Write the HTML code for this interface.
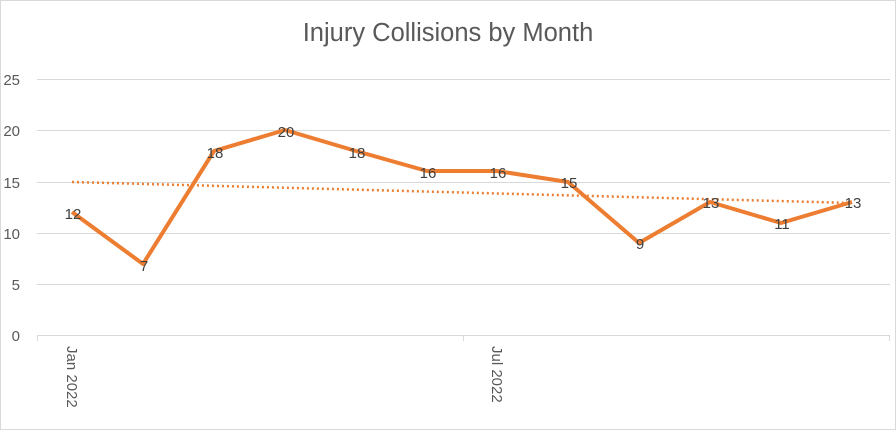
<!DOCTYPE html><html><head><style>body{margin:0;background:#fff}svg{display:block}</style></head><body>
<svg width="896" height="431" xmlns="http://www.w3.org/2000/svg" font-family="Liberation Sans, sans-serif">
<rect x="0.5" y="0.5" width="895" height="429" fill="#fff" stroke="#d9d9d9"/>
<text x="448" y="41" text-anchor="middle" font-size="25.5" fill="#595959">Injury Collisions by Month</text>
<g stroke="#d9d9d9" stroke-width="1">
<line x1="37" x2="890" y1="79.5" y2="79.5"/><line x1="37" x2="890" y1="130.5" y2="130.5"/><line x1="37" x2="890" y1="182.5" y2="182.5"/><line x1="37" x2="890" y1="233.5" y2="233.5"/><line x1="37" x2="890" y1="284.5" y2="284.5"/><line x1="37" x2="890" y1="335.5" y2="335.5"/>
<line x1="37.5" x2="37.5" y1="335" y2="341"/><line x1="463.5" x2="463.5" y1="335" y2="341"/><line x1="889.5" x2="889.5" y1="335" y2="341"/>
</g>
<g font-size="15" fill="#595959" text-anchor="end">
<text x="20" y="85">25</text><text x="20" y="136">20</text><text x="20" y="188">15</text><text x="20" y="239">10</text><text x="20" y="290">5</text><text x="20" y="341">0</text>
</g>
<g font-size="15" fill="#595959">
<text transform="translate(67,346) rotate(90)">Jan 2022</text>
<text transform="translate(492,346) rotate(90)">Jul 2022</text>
</g>
<line x1="72" y1="182" x2="852" y2="203" stroke="#ed7d31" stroke-width="2.5" stroke-dasharray="2,3"/>
<polyline fill="none" stroke="#ed7d31" stroke-width="4" stroke-linejoin="round" points="72,212 143,264 214,151 285,130 356,151 427,171 497,171 568,182 639,243 710,202 781,223 852,202"/>
<g font-size="15" fill="#404040" text-anchor="middle">
<text x="73" y="219">12</text><text x="144" y="271">7</text><text x="215" y="158">18</text><text x="286" y="137">20</text><text x="357" y="158">18</text><text x="428" y="178">16</text><text x="498" y="178">16</text><text x="569" y="188">15</text><text x="640" y="249">9</text><text x="711" y="208">13</text><text x="782" y="229">11</text><text x="853" y="208">13</text>
</g>
</svg></body></html>
